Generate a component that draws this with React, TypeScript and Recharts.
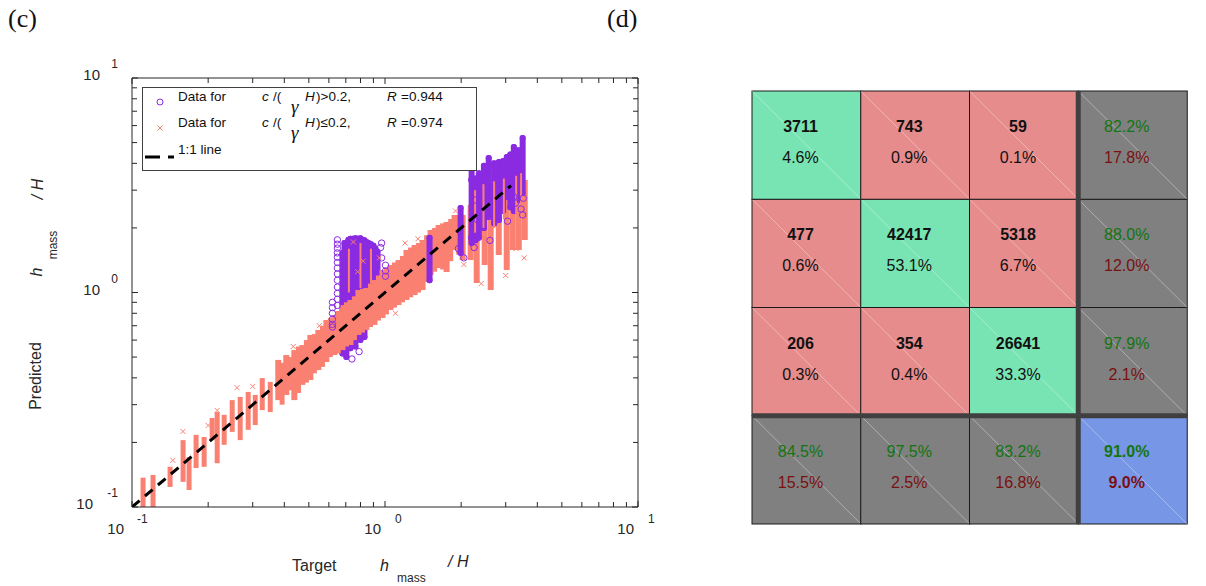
import React from 'react';
import { ScatterChart, Scatter, XAxis, YAxis, ErrorBar, BarChart, Bar, ReferenceLine } from 'recharts';

const SANS = '"Liberation Sans", Arial, Helvetica, sans-serif';
const SERIF = '"Liberation Serif", "Times New Roman", serif';
const AX = '#262626';
const PURPLE = '#8a2be2';
const SALMON = '#fa8072';

// ---------------- panel (c) : scatter data ----------------
const logTicks = [0.1, 0.2, 0.3, 0.4, 0.5, 0.6, 0.7, 0.8, 0.9, 1, 2, 3, 4, 5, 6, 7, 8, 9, 10];
const majorTicks = [0.1, 1, 10];
const majorExponents = ['-1', '0', '1'];

// salmon (c/(γH) <= 0.2) : vertical strips of points, x with min/max predicted value
const salmonX = [0.1106, 0.1211, 0.1414, 0.1592, 0.1681, 0.1792, 0.1928, 0.2074, 0.2171, 0.2314, 0.2489, 0.2677, 0.2879, 0.3070, 0.3272, 0.3519, 0.3786, 0.4073, 0.4381, 0.4713, 0.5070, 0.5452, 0.5865, 0.6310, 0.6788, 0.7302, 0.7852, 0.8446, 0.9087, 0.9775, 1.051, 1.131, 1.216, 1.309, 1.408, 1.514, 1.629, 1.752, 1.884, 2.027, 2.181, 2.304, 2.478, 2.617, 2.816, 3.028, 3.199, 3.379, 3.568];
const salmonLo = [0.100, 0.100, 0.124, 0.131, 0.120, 0.152, 0.154, 0.205, 0.160, 0.195, 0.224, 0.205, 0.229, 0.241, 0.283, 0.277, 0.315, 0.333, 0.315, 0.371, 0.391, 0.435, 0.474, 0.511, 0.539, 0.569, 0.634, 0.669, 0.706, 0.761, 0.829, 0.874, 0.923, 0.973, 1.027, 1.207, 1.301, 1.246, 1.578, 1.417, 1.417, 1.107, 1.343, 1.027, 1.495, 1.273, 1.578, 1.578, 1.757];
const salmonHi = [0.137, 0.141, 0.154, 0.205, 0.171, 0.217, 0.212, 0.260, 0.277, 0.269, 0.315, 0.326, 0.344, 0.333, 0.399, 0.383, 0.485, 0.511, 0.539, 0.569, 0.634, 0.669, 0.744, 0.785, 0.874, 0.923, 1.027, 1.050, 1.144, 1.273, 1.343, 1.417, 1.578, 1.665, 1.757, 1.956, 2.064, 2.132, 2.298, 2.298, 2.558, 2.848, 3.006, 3.171, 3.346, 3.530, 3.725, 3.725, 3.346];

// salmon strips between the main ones (band region)
const salmonFillX = [0.392, 0.422, 0.455, 0.489, 0.526, 0.566, 0.608, 0.654, 0.704, 0.757, 0.814, 0.876, 0.942, 1.013, 1.090, 1.172, 1.262, 1.357, 1.460, 1.570, 1.690, 1.818, 1.955];
const salmonFillLo = [0.300, 0.350, 0.340, 0.380, 0.420, 0.450, 0.500, 0.520, 0.560, 0.600, 0.650, 0.690, 0.740, 0.790, 0.850, 0.900, 0.950, 1.000, 1.120, 1.250, 1.280, 1.400, 1.500];
const salmonFillHi = [0.470, 0.500, 0.560, 0.600, 0.640, 0.700, 0.760, 0.820, 0.900, 0.960, 1.040, 1.100, 1.200, 1.300, 1.380, 1.480, 1.620, 1.700, 1.850, 2.000, 2.100, 2.200, 2.300];

// salmon strips mixed inside the purple clusters
const salmonMixX = [0.72, 0.80, 0.88, 2.27, 2.45, 2.70, 2.95, 3.30, 3.45];
const salmonMixLo = [1.00, 1.05, 1.10, 1.90, 2.00, 2.00, 2.20, 2.30, 2.40];
const salmonMixHi = [1.60, 1.70, 1.60, 3.00, 3.20, 3.30, 3.40, 3.50, 3.60];

// isolated salmon points
const salmonDotX = [0.145, 0.159, 0.200, 0.217, 0.260, 0.300, 0.434, 0.550, 0.950, 1.100, 1.200, 1.350, 1.900, 2.050, 2.400, 3.000, 3.300, 3.550, 0.75, 0.82, 0.78];
const salmonDotY = [0.165, 0.225, 0.240, 0.282, 0.360, 0.365, 0.560, 0.700, 1.450, 0.800, 1.700, 1.780, 2.400, 1.350, 1.100, 1.200, 1.600, 1.450, 1.72, 1.40, 1.25];

// purple (c/(γH) > 0.2) : strips
const purple1X = [0.6788, 0.6915, 0.7037, 0.7170, 0.7302, 0.7470, 0.7640, 0.7815, 0.7998, 0.8145, 0.8296, 0.8450, 0.8602, 0.8800, 0.9006, 0.9170, 0.9339];
const purple1Lo = [0.52, 0.55, 0.50, 0.60, 0.55, 0.62, 0.56, 0.70, 0.60, 0.80, 0.62, 0.85, 0.85, 0.92, 0.95, 1.00, 1.05];
const purple1Hi = [1.53, 1.70, 1.60, 1.76, 1.78, 1.78, 1.79, 1.78, 1.79, 1.76, 1.75, 1.72, 1.70, 1.68, 1.65, 1.60, 1.55];

const purple2X = [1.50, 1.99, 2.20, 2.28, 2.35, 2.46, 2.57, 2.70, 2.82, 2.93, 3.03, 3.13, 3.23, 3.36, 3.50];
const purple2Lo = [1.14, 1.53, 1.70, 1.75, 1.80, 2.00, 2.25, 2.10, 2.18, 2.40, 2.79, 2.50, 2.40, 2.70, 2.91];
const purple2Hi = [1.80, 2.48, 3.73, 3.40, 3.60, 3.90, 4.24, 4.00, 4.06, 4.10, 4.28, 4.40, 4.77, 4.60, 5.25];

// isolated purple circles
const purpleDotX = [0.6484, 0.6484, 0.6484, 0.6484, 0.6484, 0.6484, 0.6484, 0.6484, 0.6484, 0.6484, 0.6484, 0.6484, 0.6484, 0.6197, 0.6197, 0.6197, 0.6197, 0.6197, 0.6197, 0.74, 0.79, 1.0046, 1.0046, 1.0046, 0.97, 0.96, 0.97, 2.20, 2.27, 2.32, 2.20, 2.25, 3.23, 3.28, 3.45, 3.50, 2.60, 2.05, 1.95, 3.52, 3.05];
const purpleDotY = [1.76, 1.68, 1.61, 1.53, 1.46, 1.38, 1.30, 1.22, 1.14, 1.06, 0.99, 0.93, 0.87, 0.90, 0.85, 0.80, 0.75, 0.71, 0.69, 0.49, 0.53, 1.34, 1.26, 1.19, 1.45, 1.62, 1.70, 3.35, 2.70, 2.18, 1.80, 1.62, 2.79, 2.61, 2.45, 2.30, 1.75, 1.45, 1.60, 2.75, 2.15];

// 1:1 line
const oneToOneX = [0.1, 3.15];
const oneToOneY = [0.1, 3.15];

const strips = (xs: number[], lo: number[], hi: number[]) =>
  xs.map((x, i) => ({ x, y: lo[i], err: [0, hi[i] - lo[i]] }));
const points = (xs: number[], ys: number[]) => xs.map((x, i) => ({ x, y: ys[i] }));

const salmonStripsThin = strips(salmonX.slice(0, 16), salmonLo.slice(0, 16), salmonHi.slice(0, 16));
const salmonStripsBand = strips(salmonX.slice(16), salmonLo.slice(16), salmonHi.slice(16));
const salmonFill = strips(salmonFillX, salmonFillLo, salmonFillHi);
const salmonMix = strips(salmonMixX, salmonMixLo, salmonMixHi);
const purple1 = strips(purple1X, purple1Lo, purple1Hi);
const purple2 = strips(purple2X, purple2Lo, purple2Hi);
const salmonDots = points(salmonDotX, salmonDotY);
const purpleDots = points(purpleDotX, purpleDotY);
const oneToOne = points(oneToOneX, oneToOneY);

// ---------------- panel (d) : confusion matrix data ----------------
const cmCounts = [
  [3711, 743, 59],
  [477, 42417, 5318],
  [206, 354, 26641],
];
const cmShare = [
  [4.6, 0.9, 0.1],
  [0.6, 53.1, 6.7],
  [0.3, 0.4, 33.3],
];
const rowCorrect = [82.2, 88.0, 97.9];
const rowWrong = [17.8, 12.0, 2.1];
const colCorrect = [84.5, 97.5, 83.2];
const colWrong = [15.5, 2.5, 16.8];
const overallCorrect = 91.0;
const overallWrong = 9.0;
const cmColumns = ['1', '2', '3', 'S'];
const cmData = cmColumns.map((name, ci) => ({ name, ci, r1: 1, r2: 1, r3: 1, r4: 1 }));

const CM_GREEN = '#78e4b4';
const CM_RED = '#e68c8c';
const CM_GRAY = '#808080';
const CM_BLUE = '#7896e6';
const TXT_GREEN = '#127512';
const TXT_RED = '#7a1010';

// ---------------- shapes & ticks ----------------
const NoShape = () => <g />;
const CircleShape = (p: any) => (
  <circle cx={p.cx} cy={p.cy} r={3.2} fill="none" stroke={PURPLE} strokeWidth={1} />
);
const CrossShape = (p: any) => (
  <path
    d={`M${p.cx - 2.5},${p.cy - 2.5}L${p.cx + 2.5},${p.cy + 2.5}M${p.cx - 2.5},${p.cy + 2.5}L${p.cx + 2.5},${p.cy - 2.5}`}
    stroke={SALMON}
    strokeWidth={1}
  />
);

const LeftTick = (props: any) => {
  const { x, y, payload } = props;
  const mi = majorTicks.indexOf(payload.value);
  const e = mi >= 0 ? majorExponents[mi] : '';
  return (
    <g>
      <line x1={x} x2={x + (mi >= 0 ? 6 : 5)} y1={y} y2={y} stroke={AX} strokeWidth={1} />
      {mi >= 0 && (
        <g fontFamily={SANS} fill={AX}>
          <text x={x - (e.length > 1 ? 39 : 32)} y={y + 2} textAnchor="end" fontSize={15}>10</text>
          <text x={x - 14} y={y - 10} textAnchor="end" fontSize={12}>{e}</text>
        </g>
      )}
    </g>
  );
};
const RightTick = (props: any) => {
  const { x, y, payload } = props;
  const mi = majorTicks.indexOf(payload.value);
  return <line x1={x} x2={x - (mi >= 0 ? 6 : 5)} y1={y} y2={y} stroke={AX} strokeWidth={1} />;
};
const BottomTick = (props: any) => {
  const { x, y, payload } = props;
  const mi = majorTicks.indexOf(payload.value);
  const e = mi >= 0 ? majorExponents[mi] : '';
  const neg = e.length > 1;
  return (
    <g>
      <line x1={x} x2={x} y1={y} y2={y - (mi >= 0 ? 6 : 5)} stroke={AX} strokeWidth={1} />
      {mi >= 0 && (
        <g fontFamily={SANS} fill={AX}>
          <text x={x - (neg ? 8 : 4)} y={y + 27} textAnchor="end" fontSize={15}>10</text>
          <text x={x + (neg ? 5 : 10)} y={y + 16} textAnchor="start" fontSize={12}>{e}</text>
        </g>
      )}
    </g>
  );
};
const TopTick = (props: any) => {
  const { x, y, payload } = props;
  const mi = majorTicks.indexOf(payload.value);
  return <line x1={x} x2={x} y1={y} y2={y + (mi >= 0 ? 6 : 5)} stroke={AX} strokeWidth={1} />;
};

const fmt = (v: number) => v.toFixed(1) + '%';

const makeCellShape = (ri: number) => (props: any) => {
  const { x, y, width, height, payload } = props;
  const ci = payload.ci;
  let fill = CM_GRAY;
  let l1 = '';
  let l2 = '';
  let c1 = '#111';
  let c2 = '#111';
  let w1 = 700;
  let w2 = 400;
  if (ri < 3 && ci < 3) {
    fill = ri === ci ? CM_GREEN : CM_RED;
    l1 = String(cmCounts[ri][ci]);
    l2 = fmt(cmShare[ri][ci]);
  } else if (ri < 3 && ci === 3) {
    l1 = fmt(rowCorrect[ri]);
    l2 = fmt(rowWrong[ri]);
    c1 = TXT_GREEN; c2 = TXT_RED; w1 = 400;
  } else if (ri === 3 && ci < 3) {
    l1 = fmt(colCorrect[ci]);
    l2 = fmt(colWrong[ci]);
    c1 = TXT_GREEN; c2 = TXT_RED; w1 = 400;
  } else {
    fill = CM_BLUE;
    l1 = fmt(overallCorrect);
    l2 = fmt(overallWrong);
    c1 = TXT_GREEN; c2 = TXT_RED; w2 = 700;
  }
  const cx = x + width / 2 - 6;
  const cy = y + height / 2;
  return (
    <g>
      <rect x={x} y={y} width={width} height={height} fill={fill} stroke="#1a1a1a" strokeWidth={1} />
      <line x1={x} y1={y} x2={x + width} y2={y + height} stroke="#ffffff" strokeOpacity={0.45} strokeWidth={0.8} />
      <text x={cx} y={cy - 13} textAnchor="middle" fontSize={16} fontWeight={w1} fill={c1} fontFamily={SANS}>{l1}</text>
      <text x={cx} y={cy + 18} textAnchor="middle" fontSize={16} fontWeight={w2} fill={c2} fontFamily={SANS}>{l2}</text>
    </g>
  );
};

export default function App() {
  return (
    <div style={{ position: 'absolute', left: 0, top: 0, width: 1206, height: 586, background: '#fff', overflow: 'hidden' }}>
      <div style={{ position: 'absolute', left: 0, top: 0 }}>
        <ScatterChart width={660} height={586} margin={{ top: 77, right: 21, bottom: 78, left: 131 }}>
          <XAxis xAxisId="b" dataKey="x" type="number" scale="log" domain={[0.1, 10]} allowDataOverflow ticks={logTicks} interval={0}
            orientation="bottom" height={1} tickSize={0} tickMargin={0} tickLine={false} axisLine={{ stroke: AX }} tick={BottomTick} />
          <XAxis xAxisId="t" dataKey="x" type="number" scale="log" domain={[0.1, 10]} allowDataOverflow ticks={logTicks} interval={0}
            orientation="top" height={1} tickSize={0} tickMargin={0} tickLine={false} axisLine={{ stroke: AX }} tick={TopTick} />
          <YAxis yAxisId="l" dataKey="y" type="number" scale="log" domain={[0.1, 10]} allowDataOverflow ticks={logTicks} interval={0}
            orientation="left" width={1} tickSize={0} tickMargin={0} tickLine={false} axisLine={{ stroke: AX }} tick={LeftTick} />
          <YAxis yAxisId="r" dataKey="y" type="number" scale="log" domain={[0.1, 10]} allowDataOverflow ticks={logTicks} interval={0}
            orientation="right" width={1} tickSize={0} tickMargin={0} tickLine={false} axisLine={{ stroke: AX }} tick={RightTick} />

          <Scatter data={[{ x: 1, y: 1 }]} xAxisId="t" yAxisId="r" shape={NoShape} isAnimationActive={false} />

          <Scatter data={purple1} xAxisId="b" yAxisId="l" shape={NoShape} isAnimationActive={false}>
            <ErrorBar dataKey="err" direction="y" width={0} stroke={PURPLE} strokeWidth={6} strokeLinecap="round" isAnimationActive={false} />
          </Scatter>
          <Scatter data={salmonStripsThin} xAxisId="b" yAxisId="l" shape={NoShape} isAnimationActive={false}>
            <ErrorBar dataKey="err" direction="y" width={0} stroke={SALMON} strokeWidth={5} isAnimationActive={false} />
          </Scatter>
          <Scatter data={salmonStripsBand} xAxisId="b" yAxisId="l" shape={NoShape} isAnimationActive={false}>
            <ErrorBar dataKey="err" direction="y" width={0} stroke={SALMON} strokeWidth={6} isAnimationActive={false} />
          </Scatter>
          <Scatter data={salmonFill} xAxisId="b" yAxisId="l" shape={NoShape} isAnimationActive={false}>
            <ErrorBar dataKey="err" direction="y" width={0} stroke={SALMON} strokeWidth={5} isAnimationActive={false} />
          </Scatter>
          <Scatter data={purple2} xAxisId="b" yAxisId="l" shape={NoShape} isAnimationActive={false}>
            <ErrorBar dataKey="err" direction="y" width={0} stroke={PURPLE} strokeWidth={6} strokeLinecap="round" isAnimationActive={false} />
          </Scatter>
          <Scatter data={salmonMix} xAxisId="b" yAxisId="l" shape={NoShape} isAnimationActive={false}>
            <ErrorBar dataKey="err" direction="y" width={0} stroke={SALMON} strokeWidth={2} isAnimationActive={false} />
          </Scatter>
          <Scatter data={purpleDots} xAxisId="b" yAxisId="l" shape={CircleShape} isAnimationActive={false} />
          <Scatter data={salmonDots} xAxisId="b" yAxisId="l" shape={CrossShape} isAnimationActive={false} />
          <Scatter data={oneToOne} xAxisId="b" yAxisId="l" shape={NoShape} isAnimationActive={false}
            line={{ stroke: '#000', strokeWidth: 3, strokeDasharray: '10 7' }} lineType="joint" />
        </ScatterChart>
      </div>

      <div style={{ position: 'absolute', left: 751, top: 90 }}>
        <BarChart width={437} height={435} data={cmData} margin={{ top: 1, right: 1, bottom: 1, left: 1 }} barCategoryGap={0} barGap={0}>
          <XAxis dataKey="name" type="category" hide />
          <YAxis type="number" domain={[0, 4]} hide />
          <Bar dataKey="r4" stackId="a" shape={makeCellShape(3)} isAnimationActive={false} />
          <Bar dataKey="r3" stackId="a" shape={makeCellShape(2)} isAnimationActive={false} />
          <Bar dataKey="r2" stackId="a" shape={makeCellShape(1)} isAnimationActive={false} />
          <Bar dataKey="r1" stackId="a" shape={makeCellShape(0)} isAnimationActive={false} />
          <ReferenceLine x="S" position="start" stroke="#404040" strokeWidth={5} />
          <ReferenceLine y={1} stroke="#404040" strokeWidth={5} />
        </BarChart>
      </div>

      <svg width={1206} height={586} style={{ position: 'absolute', left: 0, top: 0, pointerEvents: 'none' }}>
        <text x={8} y={27} fontFamily={SERIF} fontSize={26} fill="#111">(c)</text>
        <text x={607} y={27} fontFamily={SERIF} fontSize={26} fill="#111">(d)</text>

        {/* y-axis label */}
        <g fontFamily={SANS} fill={AX}>
          <text x={41} y={376} fontSize={16} textAnchor="middle" transform="rotate(-90 41 376)">Predicted</text>
          <text x={42} y={272} fontSize={16} fontStyle="italic" textAnchor="middle" transform="rotate(-90 42 272)">h</text>
          <text x={57} y={245} fontSize={12} textAnchor="middle" transform="rotate(-90 57 245)">mass</text>
          <text x={43} y={189} fontSize={16} fontStyle="italic" textAnchor="middle" transform="rotate(-90 43 189)">/ H</text>
        </g>

        {/* x-axis label */}
        <g fontFamily={SANS} fill={AX}>
          <text x={292} y={571} fontSize={16}>Target</text>
          <text x={380} y={571} fontSize={16} fontStyle="italic">h</text>
          <text x={397} y={582} fontSize={12}>mass</text>
          <text x={448} y={567} fontSize={16} fontStyle="italic">/ H</text>
        </g>

        {/* legend */}
        <rect x={142.5} y={87.5} width={334} height={83} fill="#fff" stroke="#404040" strokeWidth={1} />
        <circle cx={160} cy={102} r={3} fill="none" stroke={PURPLE} strokeWidth={1} />
        <path d="M157.5,125.5L162.5,130.5M157.5,130.5L162.5,125.5" stroke={SALMON} strokeWidth={1} />
        <line x1={145} x2={174} y1={157} y2={157} stroke="#000" strokeWidth={3} strokeDasharray="15 8" />
        <g fontFamily={SANS} fontSize={13.5} fill="#111">
          <text x={178} y={101}>Data for</text>
          <text x={262} y={101} fontStyle="italic">c</text>
          <text x={273} y={101}>/(</text>
          <text x={291} y={113} fontFamily={SERIF} fontSize={19} fontStyle="italic">γ</text>
          <text x={305} y={101} fontStyle="italic">H</text>
          <text x={316} y={101}>)&gt;0.2,</text>
          <text x={387} y={101} fontStyle="italic">R</text>
          <text x={401} y={101}>=0.944</text>

          <text x={178} y={127}>Data for</text>
          <text x={262} y={127} fontStyle="italic">c</text>
          <text x={273} y={127}>/(</text>
          <text x={291} y={139} fontFamily={SERIF} fontSize={19} fontStyle="italic">γ</text>
          <text x={305} y={127} fontStyle="italic">H</text>
          <text x={316} y={127}>)≤0.2,</text>
          <text x={387} y={127} fontStyle="italic">R</text>
          <text x={401} y={127}>=0.974</text>

          <text x={178} y={154}>1:1 line</text>
        </g>
      </svg>
    </div>
  );
}
